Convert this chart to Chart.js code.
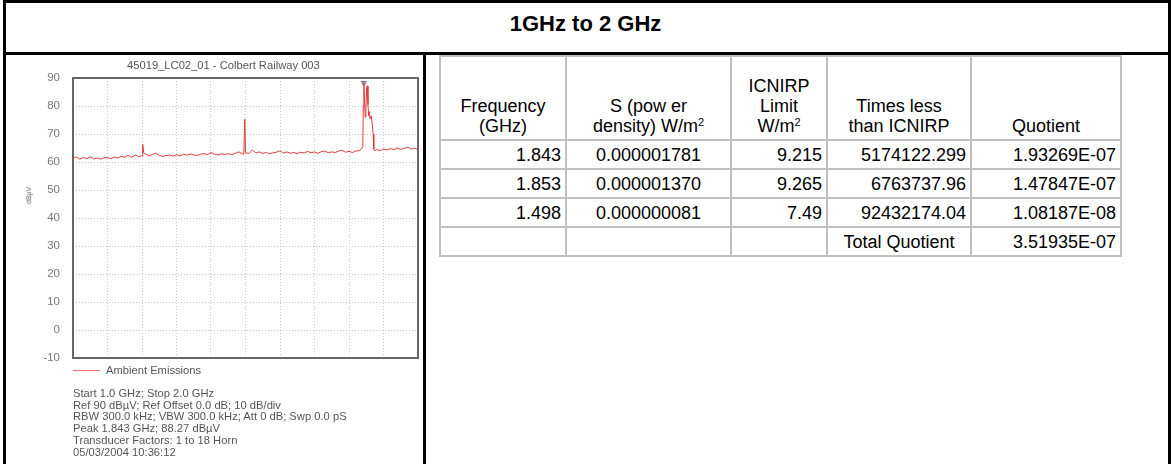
<!DOCTYPE html>
<html>
<head>
<meta charset="utf-8">
<script src="https://cdn.jsdelivr.net/npm/chart.js@4.4.0/dist/chart.umd.min.js"></script>
<style>
  body { margin: 0; background: #fff; font-family: "Liberation Sans", Arial, sans-serif; }
  #page { position: relative; width: 1171px; height: 464px; overflow: hidden; }
  .bl { position: absolute; background: #000; }
  #title { position: absolute; left: 0; width: 1171px; top: 11px; text-align: center; font-weight: bold; font-size: 22px; }
  #spec { position: absolute; left: 0; top: 0; }
  .small { position: absolute; font-size: 11.2px; color: #555; white-space: nowrap; }
  #ylab { position: absolute; left: 20px; top: 192px; font-size: 7px; color: #666; transform: rotate(-90deg); }
  #legline { position: absolute; left: 73px; top: 370px; width: 27px; height: 1px; background: #e77; }
  #foot { position: absolute; left: 73px; top: 388px; font-size: 11.2px; line-height: 11.7px; color: #555; white-space: nowrap; }
  #tbl { position: absolute; left: 439px; top: 55px; border-collapse: collapse; font-size: 18px; table-layout: fixed; }
  #tbl td { border: 2px solid #c0c0c0; padding: 0 4px 3px 4px; line-height: 20px; }
  #tbl tr.head td { vertical-align: bottom; text-align: center; }
  #tbl td.num { text-align: right; vertical-align: bottom; }
  #tbl td.ctr { text-align: center; vertical-align: bottom; }
  #tbl .sq { font-size: 11px; position: relative; top: -6px; line-height: 0; }
</style>
</head>
<body>
<div id="page">
  <div class="bl" style="left:3px;top:0;width:1168px;height:3px"></div>
  <div class="bl" style="left:3px;top:0;width:3px;height:464px"></div>
  <div class="bl" style="left:1168px;top:0;width:3px;height:464px"></div>
  <div class="bl" style="left:3px;top:52px;width:1168px;height:3px"></div>
  <div class="bl" style="left:423px;top:52px;width:3px;height:412px"></div>
  <div id="title">1GHz to 2 GHz</div>

  <canvas id="spec" width="425" height="464"></canvas>
  <div class="small" style="left:127px;top:59px">45019_LC02_01 - Colbert Railway 003</div>
  <div id="ylab">dBµV</div>
  <div id="legline"></div>
  <div class="small" style="left:106px;top:364px">Ambient Emissions</div>
  <div id="foot"></div>

  <table id="tbl"></table>
</div>

<script>
// spectrum trace (GHz, dBuV)
const freqs = [
  1.00, 1.01, 1.02, 1.03, 1.04, 1.05, 1.06, 1.07, 1.08, 1.09,
  1.10, 1.11, 1.12, 1.13, 1.14, 1.15, 1.16, 1.17, 1.18, 1.19,
  1.20, 1.202, 1.205, 1.21, 1.22, 1.23, 1.24, 1.25, 1.26, 1.27, 1.28, 1.29,
  1.30, 1.31, 1.32, 1.33, 1.34, 1.35, 1.36, 1.37, 1.38, 1.39,
  1.40, 1.41, 1.42, 1.43, 1.44, 1.45, 1.46, 1.47, 1.48, 1.49, 1.495, 1.498,
  1.50, 1.51, 1.52, 1.53, 1.54, 1.55, 1.56, 1.57, 1.58, 1.59,
  1.60, 1.61, 1.62, 1.63, 1.64, 1.65, 1.66, 1.67, 1.68, 1.69,
  1.70, 1.71, 1.72, 1.73, 1.74, 1.75, 1.76, 1.77, 1.78, 1.79,
  1.80, 1.81, 1.82, 1.83, 1.835, 1.840, 1.8415, 1.843, 1.845, 1.847, 1.849,
  1.851, 1.853, 1.855, 1.857, 1.859, 1.861, 1.864, 1.867, 1.870, 1.872, 1.875,
  1.88, 1.89, 1.90, 1.91, 1.92, 1.93, 1.94, 1.95, 1.96, 1.97, 1.98, 1.99, 2.00
];
const levels = [
  61.3, 61.8, 61.0, 61.6, 61.2, 61.9, 61.1, 61.4, 61.0, 61.5,
  61.6, 61.2, 61.8, 61.4, 62.0, 61.7, 62.4, 61.6, 62.5, 61.9,
  62.2, 66.3, 63.2, 62.8, 62.3, 62.6, 63.2, 62.4, 62.0, 62.3, 62.5, 62.1,
  62.6, 62.2, 62.8, 62.4, 62.9, 62.5, 62.3, 62.8, 63.0, 62.6,
  63.4, 62.8, 62.5, 62.9, 62.7, 63.0, 62.6, 63.1, 63.6, 63.0, 62.8, 75.3,
  63.4, 63.0, 64.3, 63.2, 63.6, 63.1, 63.4, 62.9, 63.3, 63.5,
  64.0, 63.2, 63.6, 63.1, 63.4, 63.0, 63.5, 63.2, 63.8, 63.3,
  63.6, 63.1, 63.7, 63.9, 63.3, 63.6, 63.4, 63.9, 64.2, 63.5,
  63.8, 63.4, 63.9, 64.1, 64.5, 65.5, 80.0, 88.27, 82.0, 76.0, 79.0,
  86.5, 87.2, 80.5, 76.5, 78.0, 75.5, 76.5, 74.0, 70.0, 64.5, 64.0,
  64.4, 64.1, 64.6, 64.3, 64.8, 64.4, 65.0, 64.5, 64.9, 65.3, 64.6, 64.9, 64.5
];
const peakFreq = 1.843;
const peakLevel = 88.27;
const yMin = -10, yMax = 90, yStep = 10;

const footLines = [
  "Start 1.0 GHz; Stop 2.0 GHz",
  "Ref 90 dBµV; Ref Offset 0.0 dB; 10 dB/div",
  "RBW 300.0 kHz; VBW 300.0 kHz; Att 0 dB; Swp 0.0 pS",
  "Peak 1.843 GHz; 88.27 dBµV",
  "Transducer Factors: 1 to 18 Horn",
  "05/03/2004 10:36:12"
];

// table on the right
const colHeads = ["Frequency<br>(GHz)", "S (pow er<br>density) W/m<span class=\"sq\">2</span>", "ICNIRP<br>Limit<br>W/m<span class=\"sq\">2</span>", "Times less<br>than ICNIRP", "Quotient"];
const colWidths = [126, 165, 96, 144, 150];
const tFreq = ["1.843", "1.853", "1.498"];
const tDensity = ["0.000001781", "0.000001370", "0.000000081"];
const tLimit = ["9.215", "9.265", "7.49"];
const tTimes = ["5174122.299", "6763737.96", "92432174.04"];
const tQuot = ["1.93269E-07", "1.47847E-07", "1.08187E-08"];
const totalQuot = "3.51935E-07";

document.getElementById("foot").innerHTML = footLines.join("<br>");

let html = "<colgroup>" + colWidths.map(w => `<col style="width:${w}px">`).join("") + "</colgroup>";
html += `<tr class="head" style="height:84px">` + colHeads.map(h => `<td>${h}</td>`).join("") + "</tr>";
tFreq.forEach((f, i) => {
  html += `<tr style="height:29px"><td class="num">${f}</td><td class="ctr">${tDensity[i]}</td><td class="num">${tLimit[i]}</td><td class="num">${tTimes[i]}</td><td class="num">${tQuot[i]}</td></tr>`;
});
html += `<tr style="height:29px"><td></td><td></td><td></td><td class="ctr">Total Quotient</td><td class="num">${totalQuot}</td></tr>`;
document.getElementById("tbl").innerHTML = html;

const plotFrame = {
  id: "plotFrame",
  beforeDatasetsDraw(chart) {
    const a = chart.chartArea, c = chart.ctx;
    c.save();
    c.strokeStyle = "#666";
    c.lineWidth = 2;
    c.strokeRect(a.left, a.top, a.right - a.left, a.bottom - a.top);
    c.restore();
  }
};

new Chart(document.getElementById("spec"), {
  type: "line",
  data: {
    datasets: [
      {
        data: freqs.map((f, i) => ({ x: f, y: levels[i] })),
        borderColor: "#e03a3a",
        borderWidth: 1,
        pointRadius: 0,
        tension: 0
      },
      {
        data: [{ x: peakFreq, y: peakLevel }],
        showLine: false,
        pointStyle: "triangle",
        rotation: 180,
        pointRadius: 3,
        backgroundColor: "#aaa",
        borderColor: "#777",
        borderWidth: 1
      }
    ]
  },
  options: {
    responsive: false,
    animation: false,
    devicePixelRatio: 1,
    layout: { padding: { left: 0, top: 78, right: 7, bottom: 106 } },
    plugins: { legend: { display: false }, tooltip: { enabled: false } },
    scales: {
      x: {
        type: "linear", min: 1, max: 2,
        ticks: { display: false, stepSize: 0.1 },
        grid: { color: "#c8c8c8", drawTicks: false },
        border: { display: false, dash: [1, 2] },
        afterFit(s) { s.height = 0; }
      },
      y: {
        min: yMin, max: yMax,
        ticks: { stepSize: yStep, color: "#777", padding: 13, font: { family: "Liberation Sans", size: 11.5 } },
        grid: { color: "#c8c8c8", drawTicks: false },
        border: { display: false, dash: [1, 2] },
        afterFit(s) { s.width = 73; }
      }
    }
  },
  plugins: [plotFrame]
});
</script>
</body>
</html>
